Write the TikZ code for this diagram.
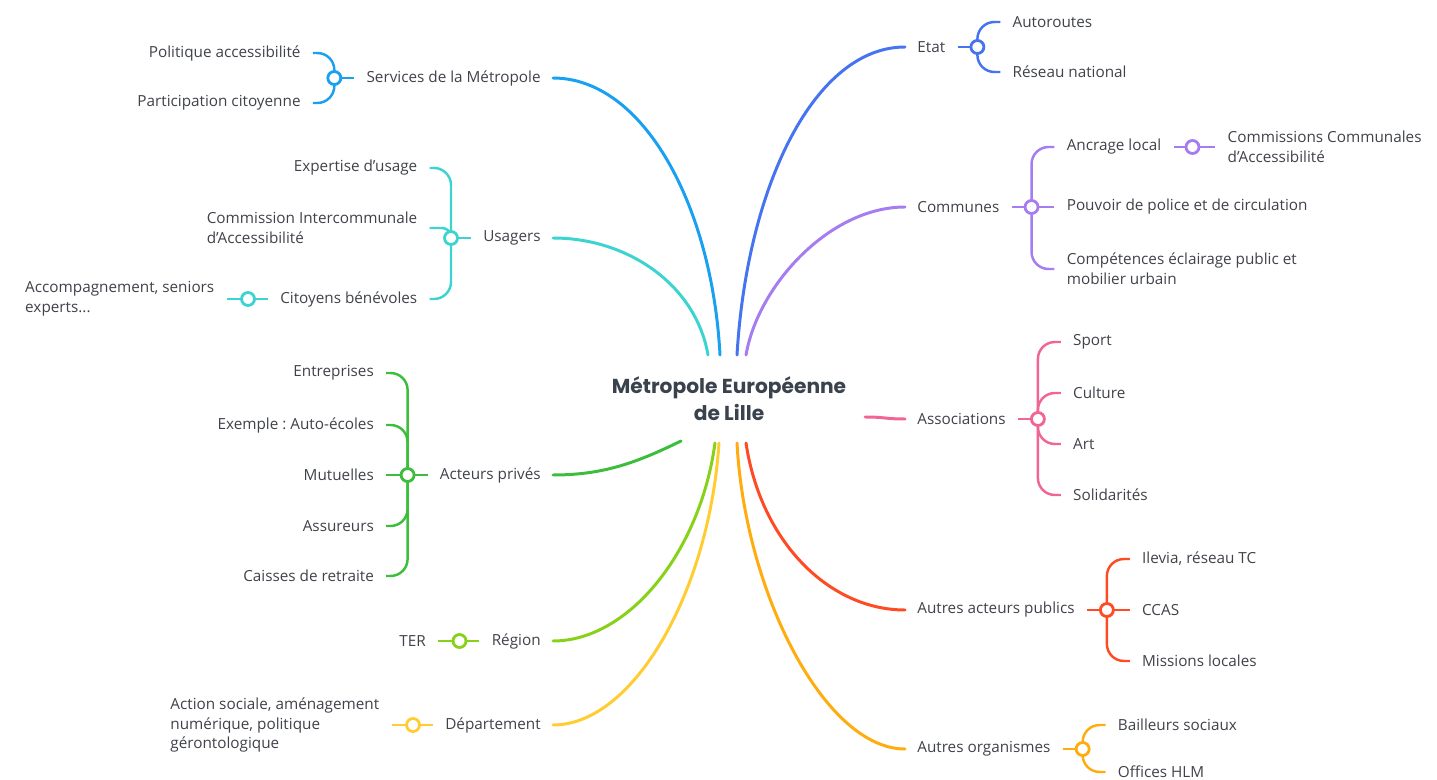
\documentclass[tikz,border=0pt]{standalone}
\usepackage{fontspec}
\setmainfont{Open Sans}
\newfontfamily\titlefont{Poppins}
\usepackage{tikz}
\usetikzlibrary{positioning,calc,backgrounds}
\definecolor{inkgrey}{RGB}{64,66,74}
\definecolor{titlegrey}{RGB}{58,66,78}
\definecolor{skyblue}{RGB}{25,160,240}
\definecolor{turquoise}{RGB}{60,212,208}
\definecolor{leafgreen}{RGB}{60,190,60}
\definecolor{limegreen}{RGB}{135,210,25}
\definecolor{sunyellow}{RGB}{255,205,50}
\definecolor{royalblue}{RGB}{70,115,240}
\definecolor{lavender}{RGB}{165,125,240}
\definecolor{rosepink}{RGB}{240,100,150}
\definecolor{vermilion}{RGB}{255,75,35}
\definecolor{amber}{RGB}{255,172,15}
\tikzset{
  base/.style={font=\fontsize{8.7}{11.3}\selectfont, text=inkgrey, align=left, inner xsep=0.24cm, inner ysep=1pt},
  topic/.style={base},
  leaf/.style={base},
  hub/.style={font=\titlefont\bfseries\fontsize{11.5}{15.3}\selectfont, text=titlegrey, align=center},
  knot/.style={circle, draw=#1, fill=white, line width=1.6pt, minimum size=0.26cm, inner sep=0pt},
  trunk/.style={draw=#1, line width=1.7pt, line cap=round},
  twig/.style={draw=#1, line width=1.4pt},
}
\begin{document}
\begin{tikzpicture}[x=0.02cm, y=-0.02cm]
  \useasboundingbox (0,0) rectangle (1437,780);
  \node[hub] (mel) at (729,399) {Métropole Européenne\\de Lille};
  % where the main branches leave the centre
  \coordinate (h-svc) at (720,355);
  \coordinate (h-usg) at (708,355);
  \coordinate (h-eta) at (737,355);
  \coordinate (h-com) at (746,355);
  \coordinate (h-asc) at (865,417);
  \coordinate (h-aap) at (746,443);
  \coordinate (h-aor) at (737,443);
  \coordinate (h-acp) at (681,441);
  \coordinate (h-reg) at (715,443);
  \coordinate (h-dep) at (719,443);

  % left side
  \node[topic,anchor=east] (svc) at (553,78) {Services de la Métropole};
  \node[knot=skyblue,left=0.24cm of svc] (svc-c) {};
  \node[leaf,left=0.27cm of svc-c,yshift=0.5cm]  (pol) {Politique accessibilité};
  \node[leaf,left=0.27cm of svc-c,yshift=-0.5cm] (par) {Participation citoyenne};

  \node[topic,anchor=east] (usg) at (553,238) {Usagers};
  \node[knot=turquoise,left=0.24cm of usg] (usg-c) {};
  \node[leaf,left=0.27cm of usg-c,yshift=1.4cm]   (exp) {Expertise d'usage};
  \node[leaf,left=0.27cm of usg-c,yshift=0.2cm]   (cia) {Commission Intercommunale\\d'Accessibilité};
  \node[leaf,left=0.27cm of usg-c,yshift=-1.22cm] (cit) {Citoyens bénévoles};
  \node[knot=turquoise,left=0.24cm of cit] (cit-c) {};
  \node[leaf,left=0.27cm of cit-c] (acc) {Accompagnement, seniors\\experts...};

  \node[topic,anchor=east] (acp) at (553,475) {Acteurs privés};
  \node[knot=leafgreen,left=0.24cm of acp] (acp-c) {};
  \node[leaf,left=0.27cm of acp-c,yshift=2.04cm]  (ent) {Entreprises};
  \node[leaf,left=0.27cm of acp-c,yshift=1.0cm]   (aut) {Exemple :\ Auto-écoles};
  \node[leaf,left=0.27cm of acp-c]                (mut) {Mutuelles};
  \node[leaf,left=0.27cm of acp-c,yshift=-1.02cm] (ass) {Assureurs};
  \node[leaf,left=0.27cm of acp-c,yshift=-2.02cm] (cai) {Caisses de retraite};

  \node[topic,anchor=east] (reg) at (553,641) {Région};
  \node[knot=limegreen,left=0.24cm of reg] (reg-c) {};
  \node[leaf,left=0.27cm of reg-c] (ter) {TER};

  \node[topic,anchor=east] (dep) at (553,725) {Département};
  \node[knot=sunyellow,left=0.24cm of dep] (dep-c) {};
  \node[leaf,left=0.27cm of dep-c] (act) {Action sociale, aménagement\\numérique, politique\\gérontologique};

  % right side
  \node[topic,anchor=west] (eta) at (905,47) {Etat};
  \node[knot=royalblue,right=0.24cm of eta] (eta-c) {};
  \node[leaf,right=0.3cm of eta-c,yshift=0.5cm]  (aro) {Autoroutes};
  \node[leaf,right=0.3cm of eta-c,yshift=-0.5cm] (rsn) {Réseau national};

  \node[topic,anchor=west] (com) at (905,207) {Communes};
  \node[knot=lavender,right=0.24cm of com] (com-c) {};
  \node[leaf,right=0.3cm of com-c,yshift=1.2cm]   (anc) {Ancrage local};
  \node[leaf,right=0.3cm of com-c]                (pou) {Pouvoir de police et de circulation};
  \node[leaf,right=0.3cm of com-c,yshift=-1.24cm] (cpt) {Compétences éclairage public et\\mobilier urbain};
  \node[knot=lavender,right=0.22cm of anc] (anc-c) {};
  \node[leaf,right=0.3cm of anc-c] (ccc) {Commissions Communales\\d'Accessibilité};

  \node[topic,anchor=west] (asc) at (905,419) {Associations};
  \node[knot=rosepink,right=0.24cm of asc] (asc-c) {};
  \node[leaf,right=0.3cm of asc-c,yshift=1.54cm]  (spo) {Sport};
  \node[leaf,right=0.3cm of asc-c,yshift=0.52cm]  (cul) {Culture};
  \node[leaf,right=0.3cm of asc-c,yshift=-0.5cm]  (art) {Art};
  \node[leaf,right=0.3cm of asc-c,yshift=-1.52cm] (sol) {Solidarités};

  \node[topic,anchor=west] (aap) at (905,610) {Autres acteurs publics};
  \node[knot=vermilion,right=0.24cm of aap] (aap-c) {};
  \node[leaf,right=0.3cm of aap-c,yshift=1.02cm]  (ile) {Ilevia, réseau TC};
  \node[leaf,right=0.3cm of aap-c]                (cca) {CCAS};
  \node[leaf,right=0.3cm of aap-c,yshift=-1.02cm] (mis) {Missions locales};

  \node[topic,anchor=west] (aor) at (905,749) {Autres organismes};
  \node[knot=amber,right=0.24cm of aor] (aor-c) {};
  \node[leaf,right=0.3cm of aor-c,yshift=0.48cm] (bai) {Bailleurs sociaux};
  \node[leaf,right=0.3cm of aor-c,yshift=-0.46cm] (off) {Offices HLM};

  % main branches
  \draw[trunk=skyblue]   (svc.east) .. controls +(90,0) and +(-8,-150) .. (h-svc);
  \draw[trunk=turquoise] (usg.east) .. controls +(75,0) and +(-12,-70) .. (h-usg);
  \draw[trunk=leafgreen] (acp.east) .. controls +(50,0) and +(-45,22) .. (h-acp);
  \draw[trunk=limegreen] (reg.east) .. controls +(75,0) and +(-15,110) .. (h-reg);
  \draw[trunk=sunyellow] (dep.east) .. controls +(80,0) and +(-10,150) .. (h-dep);
  \draw[trunk=royalblue] (eta.west) .. controls +(-90,0) and +(10,-170) .. (h-eta);
  \draw[trunk=lavender]  (com.west) .. controls +(-75,0) and +(12,-70) .. (h-com);
  \draw[trunk=rosepink]  (h-asc) .. controls +(20,0) and +(-20,0) .. (asc.west);
  \draw[trunk=vermilion] (aap.west) .. controls +(-75,0) and +(15,100) .. (h-aap);
  \draw[trunk=amber]     (aor.west) .. controls +(-80,0) and +(8,150) .. (h-aor);

  % sub-branches, behind the knots
  \begin{scope}[on background layer,rounded corners=0.34cm]
    \draw[twig=skyblue] (svc.west) -- (svc-c.center);
    \foreach \l in {pol,par}{\draw[twig=skyblue] (svc-c.center) |- (\l.east);}
    \draw[twig=turquoise] (usg.west) -- (usg-c.center);
    \foreach \l in {exp,cit}{\draw[twig=turquoise] (usg-c.center) |- (\l.east);}
    \draw[twig=turquoise,rounded corners=0.18cm] (usg-c.center) |- (cia.east);
    \draw[twig=turquoise] (cit.west) -- (acc.east);
    \draw[twig=leafgreen] (acp.west) -- (mut.east);
    \foreach \l in {ent,aut,ass,cai}{\draw[twig=leafgreen] (acp-c.center) |- (\l.east);}
    \draw[twig=limegreen] (reg.west) -- (ter.east);
    \draw[twig=sunyellow] (dep.west) -- (act.east);
    \draw[twig=royalblue] (eta.east) -- (eta-c.center);
    \foreach \l in {aro,rsn}{\draw[twig=royalblue] (eta-c.center) |- (\l.west);}
    \draw[twig=lavender] (com.east) -- (pou.west);
    \foreach \l in {anc,cpt}{\draw[twig=lavender] (com-c.center) |- (\l.west);}
    \draw[twig=lavender] (anc.east) -- (ccc.west);
    \draw[twig=rosepink] (asc.east) -- (asc-c.center);
    \foreach \l in {spo,cul,art,sol}{\draw[twig=rosepink] (asc-c.center) |- (\l.west);}
    \draw[twig=vermilion] (aap.east) -- (cca.west);
    \foreach \l in {ile,mis}{\draw[twig=vermilion] (aap-c.center) |- (\l.west);}
    \draw[twig=amber] (aor.east) -- (aor-c.center);
    \foreach \l in {bai,off}{\draw[twig=amber] (aor-c.center) |- (\l.west);}
  \end{scope}
\end{tikzpicture}
\end{document}
